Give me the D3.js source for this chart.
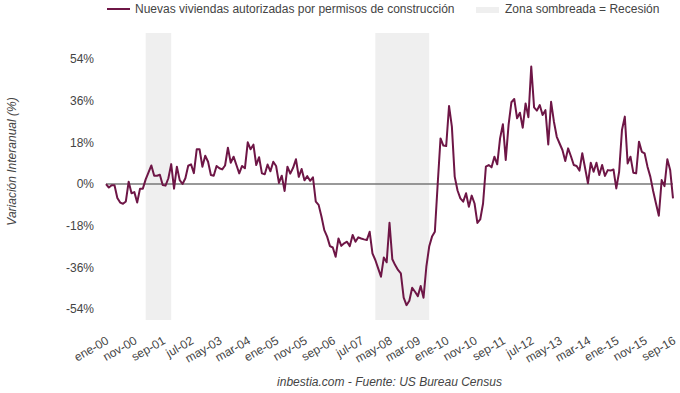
<!DOCTYPE html>
<html lang="es">
<head>
  <meta charset="UTF-8">
  <title>Nuevas viviendas autorizadas</title>
  <style>
    body {
      margin: 0;
      background: #fff;
      font-family: "Liberation Sans", Arial, sans-serif;
    }
    .tick text {
      fill: #444;
      font-size: 12px;
    }
  </style>
  <script src="https://d3js.org/d3.v7.min.js"></script>
</head>
<body>
  <svg width="680" height="393"></svg>
  <script>
    // variacion interanual (%), mensual, ene-2000 .. sep-2016
    const values = [
      0, -1.5, -0.5, -0.5, -6, -8, -8.5, -7.5, 1, -4,
      -3.5, -8, -2, -2, 2, 5, 8, 3.6, 3.6, 4,
      -0.4, -0.7, 2.5, 8.6, -2, 7.5, 1.7, 0, 2.5, 7.9,
      8.5, 4.7, 15, 15, 7.5, 12.2, 9.6, 3.9, 3.6, 7.8,
      6.8, 6.3, 8, 15.7, 9.2, 11.8, 8.2, 4.6, 7.8, 6.8,
      18, 15, 17, 8.2, 11.6, 4.6, 4.2, 8.4, 5.5, 9.6,
      7.8, 0.5, 3.6, -3, 7.5, 4.5, 7, 10.7, 3.1, 6.5,
      1.6, 3.4, 1.4, 2.9, -7.6, -9, -14, -19.9, -22.7, -26.8,
      -27.4, -31.4, -23.5, -26.7, -25.6, -24.9, -26.8, -22, -24.9, -23,
      -23.5, -23.9, -24.2, -20.6, -30, -32.8, -36.4, -40, -31.7, -33.8,
      -16.7, -32.5, -35, -37.1, -38.6, -49, -52.3, -50.4, -44.8, -46.5,
      -48.4, -44, -49.1, -35.7, -27, -22.7, -20.6, 0, 19.7, 16.6,
      16.4, 33.7, 24.8, 3.2, -2.8, -6.2, -7.6, -4, -9.8, -5,
      -8.4, -16.8, -15.3, -8.4, 7.5, 8.2, 7.2, 11.8, 8.5, 19.7,
      25.8, 10.4, 25.5, 35.3, 36.7, 28.4, 30.8, 24.3, 34.8, 28.8,
      50.7, 33.1, 31.7, 34.1, 29.8, 31.9, 17.1, 35.5, 26.9, 20.4,
      17.5, 14.7, 9.9, 15.4, 12, 8.2, 7.8, 5.8, 13.3, 6.8,
      0.3, 9.2, 5.3, 9.2, 3.9, 8.2, 3.5, 6, 5.8, 6.3,
      -1.9, 5.3, 23.3, 29.1, 8.9, 11.8, 4.9, 4.6, 18.3, 13.9,
      13.2, 7.5, 3.2, -3, -8.4, -13.7, 1.7, -0.9, 10.7, 6.1,
      -6.2
    ];

    // etiquetas del eje x, una cada 10 meses
    const tickLabels = ["ene-00", "nov-00", "sep-01", "jul-02", "may-03", "mar-04", "ene-05",
      "nov-05", "sep-06", "jul-07", "may-08", "mar-09", "ene-10", "nov-10", "sep-11",
      "jul-12", "may-13", "mar-14", "ene-15", "nov-15", "sep-16"];
    const tickStep = 10;

    // recesiones, en meses desde ene-00
    const recessionStart = [14, 95];
    const recessionEnd = [23, 114];

    const yTicks = [-54, -36, -18, 0, 18, 36, 54];

    const svg = d3.select("svg");
    const plotLeft = 106, plotRight = 673, plotTop = 33, plotBottom = 320;

    const x = d3.scaleLinear().domain([0, values.length - 1]).range([plotLeft, plotRight]);
    const y = d3.scaleLinear().domain([-58.7, 65.2]).range([plotBottom, plotTop]);

    // zonas de recesion
    svg.append("g").selectAll("rect")
      .data(recessionStart)
      .enter().append("rect")
      .attr("x", (d) => x(d))
      .attr("width", (d, i) => x(recessionEnd[i]) - x(d))
      .attr("y", plotTop)
      .attr("height", plotBottom - plotTop)
      .attr("fill", "#efefef");

    // eje y
    const yAxis = svg.append("g")
      .attr("transform", `translate(${plotLeft - 12},0)`)
      .call(d3.axisLeft(y).tickValues(yTicks).tickSize(0).tickFormat((d) => d + "%"));
    yAxis.select(".domain").remove();
    yAxis.selectAll("text").attr("x", 0);

    // eje x
    const xAxis = svg.append("g")
      .attr("transform", `translate(0,${plotBottom})`)
      .call(d3.axisBottom(x)
        .tickValues(tickLabels.map((d, i) => i * tickStep))
        .tickSize(0)
        .tickFormat((d) => tickLabels[d / tickStep]));
    xAxis.select(".domain").remove();
    xAxis.selectAll("text")
      .attr("text-anchor", "end")
      .attr("dy", null)
      .attr("y", 0)
      .attr("transform", "translate(3,23) rotate(-30)");

    // linea del cero
    svg.append("line")
      .attr("x1", plotLeft).attr("x2", plotRight)
      .attr("y1", y(0)).attr("y2", y(0))
      .attr("stroke", "#777")
      .attr("stroke-width", 1.5);

    // serie
    const line = d3.line()
      .x((d, i) => x(i))
      .y((d) => y(d));

    svg.append("path")
      .datum(values)
      .attr("fill", "none")
      .attr("stroke", "#6e1646")
      .attr("stroke-width", 2)
      .attr("stroke-linejoin", "round")
      .attr("d", line);

    // leyenda
    const legend = svg.append("g").attr("font-size", 12).attr("fill", "#444");
    legend.append("line")
      .attr("x1", 107).attr("x2", 130).attr("y1", 9).attr("y2", 9)
      .attr("stroke", "#6e1646").attr("stroke-width", 2);
    legend.append("text")
      .attr("x", 135).attr("y", 13)
      .text("Nuevas viviendas autorizadas por permisos de construcción");
    legend.append("rect")
      .attr("x", 476).attr("y", 7).attr("width", 23).attr("height", 6)
      .attr("fill", "#efefef");
    legend.append("text")
      .attr("x", 505).attr("y", 13)
      .text("Zona sombreada = Recesión");

    // titulo eje y
    svg.append("text")
      .attr("transform", `translate(16,${(plotTop + plotBottom) / 2 - 15}) rotate(-90)`)
      .attr("text-anchor", "middle")
      .attr("font-size", 12)
      .attr("font-style", "italic")
      .attr("fill", "#444")
      .text("Variación Interanual (%)");

    // fuente
    svg.append("text")
      .attr("x", (plotLeft + plotRight) / 2)
      .attr("y", 386)
      .attr("text-anchor", "middle")
      .attr("font-size", 12)
      .attr("font-style", "italic")
      .attr("fill", "#444")
      .text("inbestia.com - Fuente: US Bureau Census");
  </script>
</body>
</html>
